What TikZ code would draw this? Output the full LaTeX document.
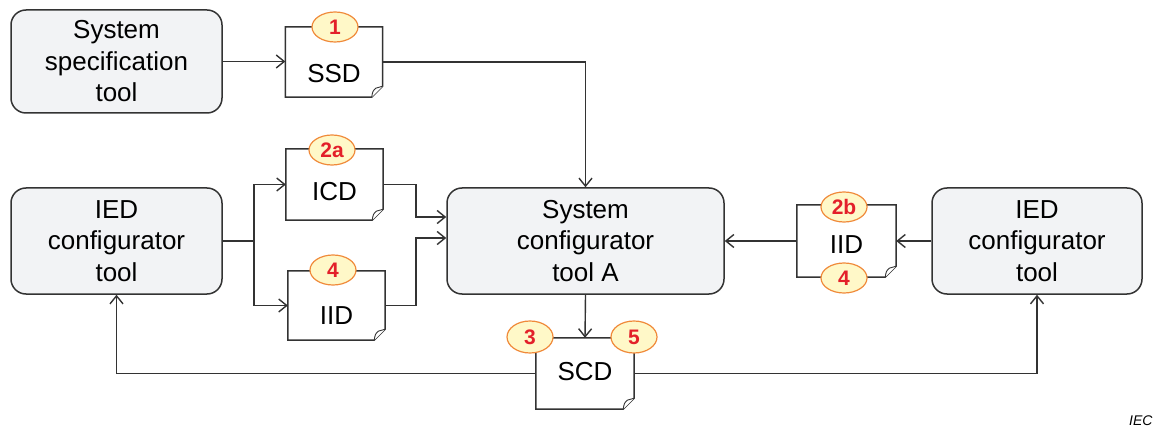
\documentclass[tikz,border=0pt]{standalone}
\usepackage{fontspec}
\setmainfont{Liberation Sans}
\usetikzlibrary{arrows.meta,calc,shapes.geometric}
\definecolor{boxfill}{HTML}{F2F3F5}
\definecolor{boxline}{HTML}{333333}
\definecolor{badgefill}{HTML}{FFF8C8}
\definecolor{badgeline}{HTML}{F08A3A}
\definecolor{badgetext}{HTML}{E3202A}
\tikzset{
  tool/.style={draw=boxline, fill=boxfill, line width=1.5pt, rounded corners=15pt,
    align=center, font=\fontsize{26}{31.5}\selectfont, inner sep=0pt},
  docbox/.style={inner sep=0pt, draw=none},
  doctext/.style={font=\fontsize{26}{31}\selectfont, inner sep=0pt},
  badge/.style={ellipse, draw=badgeline, fill=badgefill, line width=1.2pt,
    minimum width=46pt, minimum height=30pt, inner sep=0pt,
    font=\fontsize{21}{22}\selectfont\bfseries, text=badgetext},
  arr/.style={draw=boxline, line width=1.4pt, -{Straight Barb[length=8pt,width=13pt]}},
  conn/.style={draw=boxline, line width=1.4pt},
}
\newcommand{\docshape}[1]{%
  \draw[boxline, line width=1.5pt, fill=white]
    (#1.north west) -- (#1.north east) -- ($(#1.south east)+(0,-11)$)
    -- ($(#1.south east)+(-11,0)$) -- (#1.south west) -- cycle;
  \draw[boxline, line width=0.9pt, fill=white]
    ($(#1.south east)+(-11,0)$) .. controls ($(#1.south east)+(-10,-6)$) .. ($(#1.south east)+(-7,-9)$)
    -- ($(#1.south east)+(0,-11)$);
}
\begin{document}
\begin{tikzpicture}[x=1pt,y=-1pt]
\useasboundingbox (0,0) rectangle (1158,430);
% tools
\node[tool, minimum width=211pt, minimum height=103pt] (spec) at (116.5,61.5)
  {System\\specification\\tool};
\node[tool, minimum width=211pt, minimum height=106pt] (iedL) at (116.5,241)
  {IED\\configurator\\tool};
\node[tool, minimum width=277pt, minimum height=106pt] (sys) at (585.5,241)
  {System\\configurator\\tool A};
\node[tool, minimum width=210pt, minimum height=106pt] (iedR) at (1037,241)
  {IED\\configurator\\tool};
% documents
\node[docbox, minimum width=97pt, minimum height=70pt] (ssd) at (334,62) {};
\node[docbox, minimum width=97pt, minimum height=71pt] (icd) at (334.5,184.5) {};
\node[docbox, minimum width=97pt, minimum height=69pt] (iidL) at (336.5,305.5) {};
\node[docbox, minimum width=99pt, minimum height=72pt] (iidR) at (846.5,241) {};
\node[docbox, minimum width=98pt, minimum height=71pt] (scd) at (585,373.5) {};
\docshape{ssd}
\docshape{icd}
\docshape{iidL}
\docshape{iidR}
\docshape{scd}
\node[doctext] (ssdt) at (334,74) {SSD};
\node[doctext] (icdt) at (334.5,192) {ICD};
\node[doctext] (iidLt) at (336.5,316) {IID};
\node[doctext] (iidRt) at (846.5,245) {IID};
\node[doctext] (scdt) at (585,372) {SCD};
% connectors
\draw[arr] (spec.east) -- (spec.east -| ssd.west);
\draw[arr] (ssd.east) -| (sys.north);
\coordinate (j) at (254,241);
\draw[conn] (iedL.east) -- (j);
\draw[arr] (j) |- (icd.west);
\draw[arr] (j) |- (iidL.west);
\coordinate (ja) at (416,184.5);
\coordinate (jb) at (416,305.5);
\draw[arr] (icd.east) -- (ja) |- ([yshift=24pt]sys.west);
\draw[arr] (iidL.east) -- (jb) |- ([yshift=3pt]sys.west);
\draw[arr] (iedR.west) -- (iidR.east);
\draw[arr] (iidR.west) -- (sys.east);
\draw[arr] (sys.south) -- (scd.north);
\draw[arr] (scd.west) -| (iedL.south);
\draw[arr] (scd.east) -| (iedR.south);
% badges
\node[badge] (b1) at (335,27) {1};
\node[badge] (b2a) at (332,150) {2a};
\node[badge] (b4a) at (333,270) {4};
\node[badge] (b2b) at (844,207) {2b};
\node[badge] (b4b) at (844,278) {4};
\node[badge, minimum height=32pt] (b3) at (530,337) {3};
\node[badge, minimum height=32pt] (b5) at (634,337) {5};
\node[font=\fontsize{14}{16}\selectfont\itshape, anchor=east] (iec) at (1156,421) {IEC};
\end{tikzpicture}
\end{document}
